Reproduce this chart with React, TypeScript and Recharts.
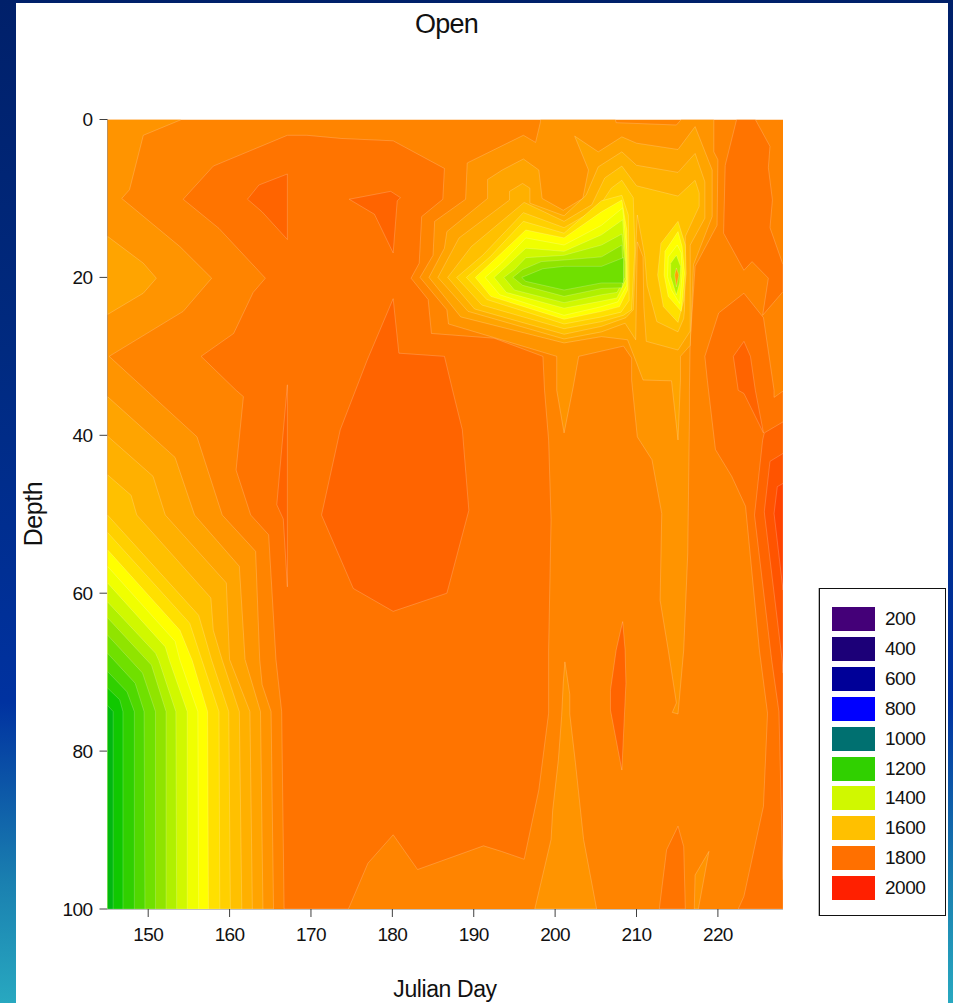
import { ScatterChart, Scatter, XAxis, YAxis } from 'recharts';

type Ring = [number, number][];

const DAY_TICKS = [150, 160, 170, 180, 190, 200, 210, 220];
const DEPTH_TICKS = [0, 20, 40, 60, 80, 100];

const LEGEND_LEVELS = [200, 400, 600, 800, 1000, 1200, 1400, 1600, 1800, 2000];
const LEGEND_COLORS = ['#440078', '#1c0078', '#000098', '#0000ff', '#007070', '#30d000', '#d0f800', '#ffc000', '#ff7000', '#ff2000'];

// contour rings as [julian day, depth], one band colour each
const WHOLE_PLOT: Ring = [[145, 0], [228, 0], [228, 100], [145, 100]];

const HIGH_1800_MAIN: Ring = [[167.1, 2], [169.5, 2], [173.7, 2.4], [180.1, 2.7], [186.4, 6.2], [186.2, 10.1], [183.6, 12.3], [183.3, 18.2], [182.3, 20.1], [184.4, 22.8], [184.8, 27.1], [192.5, 27.7], [198.5, 30], [198.7, 34.3], [199.2, 40.6], [199.5, 50.7], [199.2, 67.2], [199.2, 75.2], [198, 84.9], [196.2, 93.7], [193.4, 92.7], [191.2, 92], [183.1, 95], [180.1, 90.6], [177, 94.2], [174.6, 100], [166.7, 100], [166.4, 75], [165.7, 68.4], [164.8, 52.6], [162.6, 50.1], [160.8, 44.4], [161.7, 35.1], [160.8, 34.3], [156.5, 30], [160.5, 27.1], [162.9, 21.9], [164.4, 20.1], [158.7, 13.8], [154.3, 10.1], [158, 5.9]];
const HIGH_1800_BOTTOM: Ring = [[215.1, 89.5], [213.7, 92.5], [212.8, 100], [216, 100], [215.8, 92.1]];
const HIGH_1800_TOP_RIGHT: Ring = [[222.3, 0], [220.9, 5.8], [220.7, 14.4], [223.2, 19.1], [224.2, 18], [226.2, 20.1], [225.5, 24.8], [228, 21.8], [228, 18.4], [226.4, 13.7], [226.7, 10.2], [226.2, 6.1], [226.4, 3.4], [224.6, 0]];
const HIGH_1800_LOW_RIGHT: Ring = [[223.2, 22], [220.1, 24.5], [218.4, 30], [218.7, 33], [219.7, 41.8], [221.7, 45.2], [223.4, 49], [225.1, 67.2], [226.1, 75.2], [225.6, 87], [223.2, 98.4], [222.5, 100], [228, 100], [228, 34.4], [226.9, 35.2], [226.9, 34.3], [225.6, 25.1]];

const HIGH_1840_A: Ring = [[167.1, 6.9], [163.6, 8.3], [162.2, 10.1], [164, 11.7], [167.1, 15.2]];
const HIGH_1840_B: Ring = [[167.1, 33.6], [165.8, 48.8], [166.6, 50.6], [167.1, 59.2]];
const HIGH_1840_C: Ring = [[174.7, 10.1], [179.8, 9.1], [181, 9.9], [180.6, 10.3], [180.1, 16.9], [177.8, 12]];
const HIGH_1840_CENTER: Ring = [[180.1, 22.7], [180.8, 29.6], [186.4, 30], [187.4, 34.3], [188.6, 39.3], [189.4, 49.5], [186.7, 60], [180.1, 62.3], [175.2, 59.4], [171.3, 50.1], [173.6, 39.3], [176.9, 30.5]];
const HIGH_1840_E: Ring = [[208.3, 63.6], [207.5, 67.2], [206.8, 72.3], [206.8, 74.8], [208.2, 82.4], [208.7, 71.4], [208.6, 67.2]];
const HIGH_1840_SPIKE: Ring = [[221.9, 30], [223.2, 28.1], [224, 30], [224.6, 34.3], [225.6, 39.7], [223.2, 34.7], [222.5, 34.3]];
const HIGH_1840_RIGHT: Ring = [[225.7, 39.7], [228, 38.3], [228, 96.3], [227.5, 75], [226.6, 68.4], [224.5, 50.1], [225.5, 40.6]];
const HIGH_1880: Ring = [[226.4, 43.3], [228, 42.3], [228, 70.1], [227.9, 68.5], [225.7, 49.7]];
const HIGH_1920: Ring = [[227.3, 46.5], [228, 46.1], [228, 59.6], [226.9, 49.9]];

const LEFT_1720: Ring = [[145, 0], [154.1, 0], [149.4, 2], [147.7, 8.9], [146.75, 10], [153.9, 16.1], [157.8, 20.1], [154.3, 24.3], [145.2, 30], [156, 40.2], [159.1, 50.1], [163.2, 54.7], [163.7, 68.4], [164, 71.6], [165.1, 75], [165.4, 100], [145, 100]];
const LEFT_1680_TOP: Ring = [[145, 14.8], [149.4, 18.2], [151, 20.1], [149.4, 22], [145, 24.7]];
const LEFT_1680: Ring = [[145, 35.1], [153.3, 42.8], [155.7, 50.1], [161.2, 56.6], [161.9, 68.4], [163.8, 75], [164.1, 100], [145, 100]];
const LEFT_1640: Ring = [[145, 40.1], [150.6, 45.2], [152.1, 50.1], [159.6, 58.7], [160, 68.4], [162.5, 75], [162.8, 100], [145, 100]];
const LEFT_1600: Ring = [[145, 45], [147.9, 47.6], [148.6, 50.1], [157.7, 60.6], [158, 64.7], [159.1, 68.5], [161.2, 75], [161.5, 100], [145, 100]];
const LEFT_1560: Ring = [[145, 50.1], [156.2, 62.8], [157.8, 68.5], [159.9, 75], [160.1, 100], [145, 100]];
const LEFT_1520: Ring = [[145, 52.3], [155.1, 63.8], [156.6, 68.5], [158.7, 75], [158.8, 100], [145, 100]];
const LEFT_1480: Ring = [[145, 54.5], [153.9, 64.7], [155.4, 68.5], [157.3, 75], [157.4, 100], [145, 100]];
const LEFT_1440: Ring = [[145, 56.6], [153.3, 66.1], [153.9, 68.5], [156.1, 75], [156.2, 100], [145, 100]];
const LEFT_1400: Ring = [[145, 58.7], [152.1, 66.8], [152.6, 68.5], [154.8, 75], [154.8, 100], [145, 100]];
const LEFT_1360: Ring = [[145, 61.1], [150.9, 67.6], [151.3, 68.5], [153.4, 75], [153.5, 100], [145, 100]];
const LEFT_1320: Ring = [[145, 63.1], [150.4, 69.1], [152.2, 75], [152.2, 100], [145, 100]];
const LEFT_1280: Ring = [[145, 65.3], [149.3, 70.1], [150.9, 75], [150.9, 100], [145, 100]];
const LEFT_1240: Ring = [[145, 67.6], [148.4, 71.4], [149.5, 75], [149.6, 100], [145, 100]];
const LEFT_1200: Ring = [[145, 69.9], [147.4, 72.5], [148.3, 75], [148.3, 100], [145, 100]];
const LEFT_1160: Ring = [[145, 72], [146.5, 73.5], [146.9, 75], [146.9, 100], [145, 100]];
const LEFT_1120: Ring = [[145, 74.2], [145.7, 75], [145.7, 100], [145, 100]];

const MID_1720: Ring = [[183.4, 20], [185, 17.2], [185.2, 12.9], [189, 10.1], [189.2, 5.5], [196.1, 2], [197.6, 2.9], [198.2, 0.3], [198.2, 0], [207.4, 0], [207.5, 0.4], [214.9, 0.7], [215.5, 0], [219.5, 0], [219.5, 4.1], [220, 5.1], [219.9, 13.4], [217.2, 18.6], [216.6, 27.9], [216.5, 34.3], [216.5, 38.1], [216.3, 54.9], [215.8, 67.2], [215.1, 75.3], [214.4, 75.1], [214.9, 73.9], [213.9, 67.2], [212.9, 60.9], [213.1, 49.9], [211.9, 43.1], [210.1, 40.2], [209.4, 33], [209.4, 30.2], [208.4, 28.7], [202.9, 30], [202.2, 34], [201.1, 39.7], [200.2, 34.3], [200.2, 30], [186.9, 25.9], [186.7, 24.1]];
const BOTTOM_1720: Ring = [[201.2, 68.7], [201.8, 72.8], [201.8, 75.3], [202.5, 81.5], [203.5, 91.2], [205.1, 100], [197.5, 100], [199.5, 91.2], [199.7, 87.5], [200.4, 81.1], [200.8, 75.6], [201, 71.4]];
const SLIVER_1720: Ring = [[217.2, 95.7], [218.9, 92.7], [217.6, 100], [217.1, 100]];
const MID_1680: Ring = [[184.5, 20], [186.4, 16.3], [186.7, 14.2], [191.7, 10], [191.7, 7.6], [193.5, 6.4], [196.1, 5], [198, 6.4], [198.4, 10], [201, 11.5], [203.4, 10], [204.1, 6.4], [202.4, 2.1], [205.3, 4.1], [208.2, 2.2], [210, 3], [215.1, 3.8], [217.2, 0.9], [219.3, 6.4], [219.3, 12.3], [217, 18.4], [216.6, 28.6], [215.4, 30], [215.4, 33], [215.1, 40.6], [214.3, 33.1], [210.8, 33], [210, 30.8], [208.9, 27.9], [205.7, 27.5], [201.1, 28.3], [188.4, 25]];
const MID_1640: Ring = [[185.6, 20], [188.2, 15], [194.4, 10.2], [194.4, 9.1], [196, 8.1], [196.9, 8.7], [196.9, 10.6], [201.1, 12.2], [203.8, 9.6], [205.3, 6], [208.2, 4.1], [210, 5.8], [215.1, 6.7], [217.2, 4.3], [218.4, 7.9], [218.4, 12.5], [216.6, 15.9], [216.6, 26.8], [215.1, 29.2], [211.2, 28.1], [210.9, 23.7], [210.8, 17.4], [210.1, 15.5], [209.9, 27.9], [208.6, 25.8], [205.7, 26.9], [201.1, 27.8], [189.3, 24.3]];
const MID_1600: Ring = [[186.8, 20], [189.7, 16.1], [196.2, 10.5], [201.1, 12.9], [204.5, 10.8], [206.1, 7.4], [208.2, 5.9], [210, 8.4], [215.1, 9.7], [217.2, 7.7], [217.7, 9.3], [217.7, 11], [216, 14.8], [215.9, 24.1], [215.8, 25.2], [215.1, 26.9], [212.5, 25.6], [211.3, 21], [211, 17.2], [210.1, 12.1], [209.9, 16.5], [209.6, 24.1], [208.7, 25.1], [205.7, 26.2], [201.1, 27.2], [190.1, 24]];
const MID_1560: Ring = [[187.9, 20], [191.1, 17.2], [196.1, 11.8], [201.1, 13.7], [205.3, 11.2], [206.9, 8.7], [208.2, 7.7], [209.6, 9.9], [209.8, 16.5], [209.4, 24.1], [208.4, 24.8], [205.7, 25.6], [201.1, 26.5], [191, 23.5]];
const MID_1520: Ring = [[189.1, 20], [192, 17.4], [196.1, 12.9], [201.1, 14.4], [205.7, 10.3], [208.2, 9.6], [209, 12.1], [209.1, 22.9], [208.1, 24.4], [205.7, 25], [201.1, 25.9], [191.6, 22.8]];
const MID_1480: Ring = [[190.2, 20], [192.5, 17.8], [196.4, 14], [201.1, 15], [205.7, 11.7], [208.2, 10.2], [208.8, 14], [208.9, 21.6], [207.9, 23.7], [205.7, 24.3], [201.1, 25.3], [192.1, 22.4]];
const MID_1440: Ring = [[191.4, 20], [193.4, 18.2], [196.4, 15], [201.1, 15.9], [205.7, 13.4], [208.3, 11.2], [208.8, 16.5], [208.8, 21], [207.7, 23.1], [205.7, 23.7], [201.1, 24.8], [193.2, 22.2]];
const MID_1400: Ring = [[192.5, 20], [194, 18.6], [196.4, 16.3], [201.1, 16.7], [205.7, 14.6], [208.3, 12.7], [208.7, 18.4], [208.7, 20.3], [207.6, 22.6], [205.7, 23], [201.1, 23.9], [194, 21.9]];
const MID_1360: Ring = [[193.7, 20], [195, 19], [196.4, 17.5], [201.1, 17.2], [205.7, 15.9], [208.2, 14.5], [208.6, 18], [208.6, 20], [207.6, 21.9], [205.7, 22.2], [201.1, 23.2], [195, 21.6]];
const MID_1320: Ring = [[194.8, 20], [196, 19], [198.3, 18], [201.1, 17.8], [205.7, 17.4], [208.2, 15.9], [208.4, 20], [208.2, 21.3], [205.7, 21.4], [201.1, 22.4], [196, 21]];
const MID_1280: Ring = [[195.9, 20], [198.5, 18.9], [201.1, 18.6], [205.7, 18.6], [208.4, 17.5], [208.4, 20.7], [205.7, 20.7], [201.1, 21.6], [196.4, 20.5]];

const SPOT_1560: Ring = [[215.1, 12.9], [213, 15.7], [212.6, 19.7], [213.3, 23.7], [215.1, 25.7], [215.8, 22.9], [216.1, 19.5], [216, 15.9]];
const SPOT_1480: Ring = [[215.1, 14.2], [213.5, 16.7], [213.4, 19.7], [213.9, 22.4], [215.5, 24.3], [215.9, 19.5], [215.6, 16.1]];
const SPOT_1440: Ring = [[215, 15.9], [213.9, 17.4], [213.8, 19.9], [214.3, 21.6], [215.3, 23.3], [215.6, 19.5], [215.5, 16.9]];
const SPOT_1360: Ring = [[214.9, 17.2], [214.2, 18.2], [214.2, 19.9], [214.9, 22.2], [215.3, 20.7], [215.4, 18.6]];
const SPOT_CORE: Ring = [[214.9, 18.8], [214.7, 19.7], [214.9, 21.2], [215.2, 19.7]];

// painted back to front: base band, warmer patches, then the cooler nests
const BAND_RINGS: [string, Ring][] = [
  ['#ff8400', WHOLE_PLOT],
  ['#ff7400', HIGH_1800_MAIN],
  ['#ff7400', HIGH_1800_BOTTOM],
  ['#ff7400', HIGH_1800_TOP_RIGHT],
  ['#ff7400', HIGH_1800_LOW_RIGHT],
  ['#ff6400', HIGH_1840_A],
  ['#ff6400', HIGH_1840_B],
  ['#ff6400', HIGH_1840_C],
  ['#ff6400', HIGH_1840_CENTER],
  ['#ff6400', HIGH_1840_E],
  ['#ff6400', HIGH_1840_SPIKE],
  ['#ff6400', HIGH_1840_RIGHT],
  ['#ff5400', HIGH_1880],
  ['#ff4400', HIGH_1920],
  ['#ff9400', LEFT_1720],
  ['#ff9400', MID_1720],
  ['#ff9400', BOTTOM_1720],
  ['#ff9400', SLIVER_1720],
  ['#ffa400', LEFT_1680_TOP],
  ['#ffa400', LEFT_1680],
  ['#ffa400', MID_1680],
  ['#ffb000', LEFT_1640],
  ['#ffb000', MID_1640],
  ['#ffc000', LEFT_1600],
  ['#ffc000', MID_1600],
  ['#ffd000', LEFT_1560],
  ['#ffd000', MID_1560],
  ['#ffe000', LEFT_1520],
  ['#ffe000', MID_1520],
  ['#ffe000', SPOT_1560],
  ['#ffff00', LEFT_1480],
  ['#ffff00', MID_1480],
  ['#ffff00', SPOT_1480],
  ['#f0ff00', LEFT_1440],
  ['#f0ff00', MID_1440],
  ['#f0ff00', SPOT_1440],
  ['#d0f800', LEFT_1400],
  ['#d0f800', MID_1400],
  ['#b0f000', LEFT_1360],
  ['#b0f000', MID_1360],
  ['#b0f000', SPOT_1360],
  ['#ffa400', SPOT_CORE],
  ['#90e400', LEFT_1320],
  ['#90e400', MID_1320],
  ['#70e000', LEFT_1280],
  ['#70e000', MID_1280],
  ['#50d800', LEFT_1240],
  ['#30d000', LEFT_1200],
  ['#10c800', LEFT_1160],
  ['#00b810', LEFT_1120],
];

const FONT = '"Liberation Sans", Arial, sans-serif';

function filledRing(fill: string) {
  return (props: any) => (
    <polygon
      points={props.points.map((p: any) => `${p.x},${p.y}`).join(' ')}
      fill={fill}
      stroke="#ffffff"
      strokeOpacity={fill === '#ff8400' ? 0 : 0.28}
      strokeWidth={0.7}
    />
  );
}

export default function App() {
  return (
    <div
      style={{
        position: 'absolute',
        left: 0,
        top: 0,
        width: 953,
        height: 1003,
        overflow: 'hidden',
        fontFamily: FONT,
        background: 'linear-gradient(180deg, #00206a 0%, #002a80 35%, #0032a0 70%, #1a80b0 88%, #28a8c0 100%)',
      }}
    >
      <div style={{ position: 'absolute', left: 16, top: 3, width: 932, height: 1000, background: '#fff' }} />
      <div style={{ position: 'absolute', left: 0, top: 9, width: 893, textAlign: 'center', fontSize: 27, letterSpacing: -0.8, color: '#111' }}>
        Open
      </div>
      <div style={{ position: 'absolute', left: 0, top: 0 }}>
        <ScatterChart width={953} height={1003} margin={{ top: 119.5, left: 67.5, right: 170, bottom: 54 }}>
          <XAxis
            type="number"
            dataKey="day"
            domain={[145, 228]}
            ticks={DAY_TICKS}
            tickSize={8}
            tickMargin={11}
            height={40}
            allowDataOverflow
            stroke="#808080"
            tickLine={{ stroke: '#404040' }}
            tick={{ fontSize: 19, fill: '#111', letterSpacing: -0.6 }}
          />
          <YAxis
            type="number"
            dataKey="depth"
            reversed
            domain={[0, 100]}
            ticks={DEPTH_TICKS}
            tickSize={8}
            tickMargin={7}
            width={40}
            allowDataOverflow
            stroke="#808080"
            tickLine={{ stroke: '#404040' }}
            tick={{ fontSize: 19, fill: '#111', letterSpacing: -0.6 }}
          />
          <XAxis xAxisId="top" orientation="top" type="number" domain={[145, 228]} height={0} tick={false} tickLine={false} stroke="#909090" />
          <YAxis yAxisId="right" orientation="right" type="number" domain={[0, 100]} width={0} tick={false} tickLine={false} stroke="#a08060" />
          {BAND_RINGS.map(([fill, ring], i) => (
            <Scatter
              key={i}
              data={ring.map(([day, depth]) => ({ day, depth }))}
              line={filledRing(fill)}
              shape={() => null}
              isAnimationActive={false}
            />
          ))}
          <text x={445} y={997} textAnchor="middle" fontSize={23} letterSpacing={-0.4} fill="#111" fontFamily={FONT}>
            Julian Day
          </text>
          <text
            x={0}
            y={0}
            transform="translate(42,514) rotate(-90)"
            textAnchor="middle"
            fontSize={25}
            letterSpacing={-0.4}
            fill="#111"
            fontFamily={FONT}
          >
            Depth
          </text>
        </ScatterChart>
      </div>
      <div
        style={{
          position: 'absolute',
          left: 819,
          top: 588,
          width: 125,
          height: 326,
          border: '1px solid #111',
          background: '#fff',
          boxShadow: '-1px 0 0 #bbb',
        }}
      >
        {LEGEND_LEVELS.map((level, i) => (
          <div key={level}>
            <div
              style={{
                position: 'absolute',
                left: 12,
                top: 18 + i * 29.9,
                width: 43,
                height: 24,
                background: LEGEND_COLORS[i],
              }}
            />
            <div
              style={{
                position: 'absolute',
                left: 65,
                top: 19 + i * 29.9,
                fontSize: 19,
                letterSpacing: -0.5,
                color: '#111',
                lineHeight: '22px',
              }}
            >
              {level}
            </div>
          </div>
        ))}
      </div>
    </div>
  );
}
